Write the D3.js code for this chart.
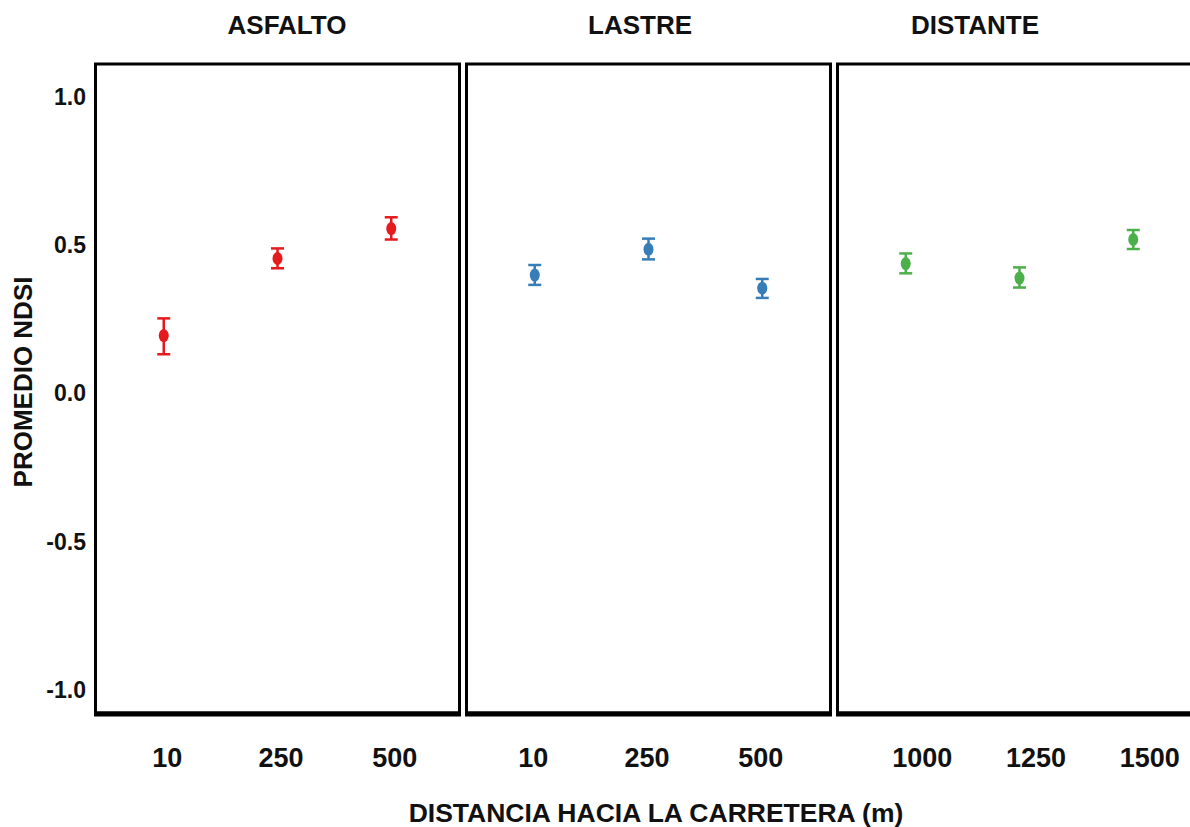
<!DOCTYPE html>
<html>
<head>
<meta charset="utf-8">
<script src="https://cdn.jsdelivr.net/npm/d3@7"></script>
<style>
  html, body { margin: 0; padding: 0; background: #fff; }
  svg { display: block; }
  text { font-family: "Liberation Sans", Arial, sans-serif; font-weight: bold; fill: #111; }
</style>
</head>
<body>
<svg id="chart" width="1190" height="827"></svg>
<script>
// Road surface groups (facets)
const panels = ["ASFALTO", "LASTRE", "DISTANTE"];
const panelColors = ["#E41A1C", "#377EB8", "#4DAF4A"];

// Distance categories per facet (x tick labels)
const distAsfalto = ["10", "250", "500"];
const distLastre = ["10", "250", "500"];
const distDistante = ["1000", "1250", "1500"];

// Mean NDSI with lower / upper error limits
const meanAsfalto = [0.195, 0.455, 0.556];
const lowAsfalto  = [0.132, 0.422, 0.519];
const highAsfalto = [0.253, 0.489, 0.594];

const meanLastre = [0.399, 0.486, 0.355];
const lowLastre  = [0.366, 0.452, 0.322];
const highLastre = [0.433, 0.522, 0.386];

const meanDistante = [0.438, 0.389, 0.519];
const lowDistante  = [0.405, 0.357, 0.487];
const highDistante = [0.472, 0.425, 0.551];

// Y axis ticks
const yTickValues = [-1.0, -0.5, 0.0, 0.5, 1.0];
const yTickLabels = ["-1.0", "-0.5", "0.0", "0.5", "1.0"];

const facetData = [
  { cats: distAsfalto, mean: meanAsfalto, low: lowAsfalto, high: highAsfalto },
  { cats: distLastre, mean: meanLastre, low: lowLastre, high: highLastre },
  { cats: distDistante, mean: meanDistante, low: lowDistante, high: highDistante }
];

const svg = d3.select("#chart");

// Layout
const panelTop = 64, panelBottom = 713;
const panelLefts = [95.5, 466.5, 837.5];
const panelWidth = 364;
const titleX = [287, 640, 975];
const labelShift = [3, -2, 16];

const y = d3.scaleLinear().domain([-1.078, 1.111]).range([panelBottom, panelTop]);

// Y axis (labels only)
const yAxis = d3.axisLeft(y)
  .tickValues(yTickValues)
  .tickFormat((d, i) => yTickLabels[i])
  .tickSize(0)
  .tickPadding(0);
const yg = svg.append("g").attr("transform", "translate(86,0)").call(yAxis);
yg.select(".domain").remove();
yg.selectAll("text")
  .attr("font-size", 23)
  .attr("font-family", "Liberation Sans, Arial, sans-serif")
  .attr("font-weight", "bold")
  .attr("fill", "#111");

facetData.forEach((f, p) => {
  const x0 = panelLefts[p];
  const x = d3.scalePoint().domain(f.cats).range([x0, x0 + panelWidth]).padding(0.6);
  const color = panelColors[p];
  const g = svg.append("g");

  // Panel frame
  g.append("rect")
    .attr("x", x0).attr("y", panelTop)
    .attr("width", panelWidth).attr("height", panelBottom - panelTop)
    .attr("fill", "none").attr("stroke", "#000").attr("stroke-width", 3);
  g.append("line")
    .attr("x1", x0 - 1.5).attr("x2", x0 + panelWidth + 1.5)
    .attr("y1", panelBottom + 1).attr("y2", panelBottom + 1)
    .attr("stroke", "#000").attr("stroke-width", 5);

  // Facet title
  svg.append("text")
    .attr("x", titleX[p]).attr("y", 34)
    .attr("text-anchor", "middle")
    .attr("font-size", 26)
    .text(panels[p]);

  // Error bars
  const rows = f.cats.map((c, i) => ({ c, m: f.mean[i], lo: f.low[i], hi: f.high[i] }));
  const capHalf = 6.5;
  g.selectAll(".whisker").data(rows).join("line")
    .attr("x1", d => x(d.c)).attr("x2", d => x(d.c))
    .attr("y1", d => y(d.lo)).attr("y2", d => y(d.hi))
    .attr("stroke", color).attr("stroke-width", 2.5);
  g.selectAll(".capTop").data(rows).join("line")
    .attr("x1", d => x(d.c) - capHalf).attr("x2", d => x(d.c) + capHalf)
    .attr("y1", d => y(d.hi)).attr("y2", d => y(d.hi))
    .attr("stroke", color).attr("stroke-width", 2.5);
  g.selectAll(".capBot").data(rows).join("line")
    .attr("x1", d => x(d.c) - capHalf).attr("x2", d => x(d.c) + capHalf)
    .attr("y1", d => y(d.lo)).attr("y2", d => y(d.lo))
    .attr("stroke", color).attr("stroke-width", 2.5);
  g.selectAll(".pt").data(rows).join("ellipse")
    .attr("cx", d => x(d.c)).attr("cy", d => y(d.m))
    .attr("rx", 5).attr("ry", 6.5)
    .attr("fill", color);

  // X axis labels
  const xAxis = d3.axisBottom(x).tickSize(0).tickPadding(0);
  const xg = svg.append("g")
    .attr("transform", `translate(${labelShift[p]},${749})`)
    .call(xAxis);
  xg.select(".domain").remove();
  xg.selectAll("text")
    .attr("font-size", 27)
    .attr("font-family", "Liberation Sans, Arial, sans-serif")
    .attr("font-weight", "bold")
    .attr("fill", "#111")
    .attr("dy", "0.71em")
    .attr("y", -1);
});

// Axis titles
svg.append("text")
  .attr("x", 656).attr("y", 822)
  .attr("text-anchor", "middle")
  .attr("font-size", 26.5)
  .text("DISTANCIA HACIA LA CARRETERA (m)");

svg.append("text")
  .attr("transform", "translate(32,382) rotate(-90)")
  .attr("text-anchor", "middle")
  .attr("font-size", 26)
  .text("PROMEDIO NDSI");
</script>
</body>
</html>
